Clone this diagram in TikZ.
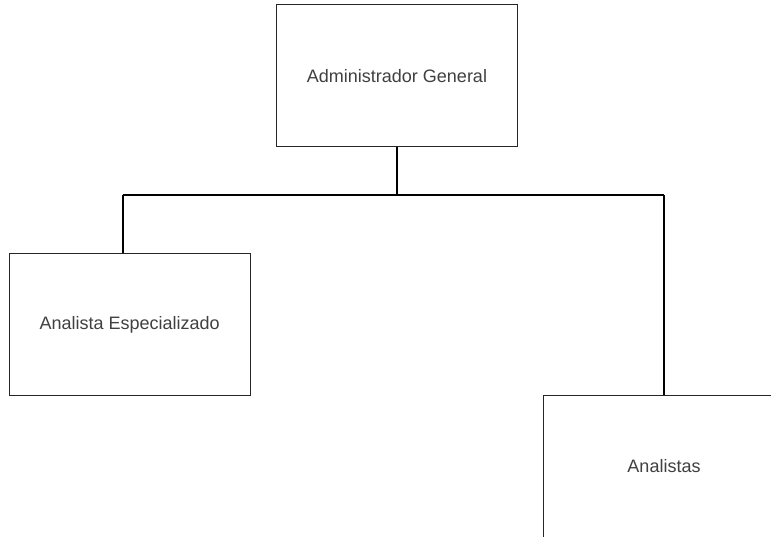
\documentclass[tikz,border=0pt]{standalone}
\usepackage{fontspec}
\setmainfont{Liberation Sans}
\begin{document}
\begin{tikzpicture}[x=1pt,y=-1pt,
  orgbox/.style={draw=black!85,line width=1pt,fill=white,minimum width=241pt,minimum height=142pt,inner sep=0pt,font=\fontsize{18}{21}\selectfont,text=black!75},
  link/.style={draw=black,line width=2pt}]
\clip (0,0) rectangle (771,537);
\fill[white] (0,0) rectangle (771,537);
\node[orgbox] (admin) at (397,75.7) {Administrador General};
\node[orgbox,minimum width=240.7pt] (esp) at (129.7,324.5) {Analista Especializado};
\node[orgbox] (anal) at (664,466) {Analistas};
\coordinate (bus) at (397,195.5);
\coordinate (busl) at (123.3,195.5);
\coordinate (busr) at (664,195.5);
\draw[link] (admin.south) -- (bus);
\draw[link] (busl) -- (busr);
\draw[link] (busl) -- (busl |- esp.north);
\draw[link] (busr) -- (anal.north);
\end{tikzpicture}
\end{document}
